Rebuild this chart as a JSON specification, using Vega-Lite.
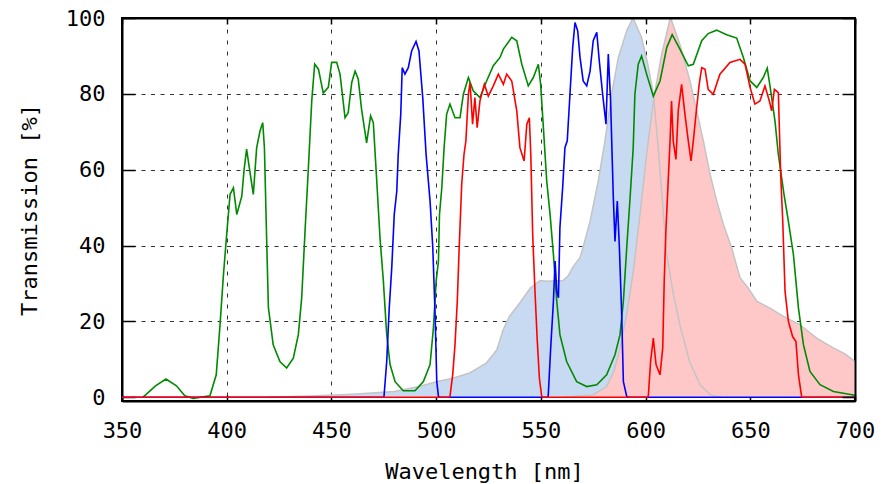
{
  "$schema": "https://vega.github.io/schema/vega-lite/v6.json",
  "width": 733,
  "height": 383,
  "autosize": {"type": "none"},
  "padding": {"left": 122, "top": 18, "right": 35, "bottom": 83},
  "background": "#ffffff",
  "config": {
    "view": {"stroke": "#000000", "strokeWidth": 2},
    "axis": {
      "labelFont": "DejaVu Sans Mono",
      "labelFontSize": 22,
      "labelColor": "#000000",
      "labelFlush": false,
      "titleFont": "DejaVu Sans Mono",
      "titleFontSize": 22,
      "titleFontWeight": "normal",
      "titleColor": "#000000",
      "tickColor": "#000000",
      "tickWidth": 1.5,
      "domain": false,
      "gridColor": "#333333",
      "gridOpacity": 1,
      "gridWidth": 1
    }
  },
  "datasets": {
    "exc": [
      {"wl": 420, "t": 0}, {"wl": 440, "t": 0.3}, {"wl": 460, "t": 0.8}, {"wl": 480, "t": 1.5},
      {"wl": 492, "t": 2.8}, {"wl": 500, "t": 4.1}, {"wl": 508, "t": 5}, {"wl": 516, "t": 6.4},
      {"wl": 524, "t": 9}, {"wl": 529, "t": 12.5}, {"wl": 532, "t": 17.8}, {"wl": 535, "t": 21.3},
      {"wl": 540, "t": 24.9}, {"wl": 545, "t": 28.8}, {"wl": 549.6, "t": 30.8}, {"wl": 552.8, "t": 30.6},
      {"wl": 560.7, "t": 30.8}, {"wl": 563, "t": 32}, {"wl": 565.5, "t": 34.5}, {"wl": 568.7, "t": 36.8},
      {"wl": 570.3, "t": 39.8}, {"wl": 573.5, "t": 46.4}, {"wl": 577.4, "t": 57}, {"wl": 580.6, "t": 67.6},
      {"wl": 583.8, "t": 79.9}, {"wl": 587, "t": 89.6}, {"wl": 591, "t": 96.6}, {"wl": 594, "t": 100},
      {"wl": 598, "t": 95}, {"wl": 601, "t": 88}, {"wl": 603.7, "t": 80}, {"wl": 606, "t": 66},
      {"wl": 608, "t": 52}, {"wl": 610, "t": 38}, {"wl": 613, "t": 28}, {"wl": 616.4, "t": 19},
      {"wl": 621, "t": 9.4}, {"wl": 626, "t": 3.3}, {"wl": 631, "t": 0.6}, {"wl": 636, "t": 0}
    ],
    "em": [
      {"wl": 560, "t": 0}, {"wl": 575, "t": 0.6}, {"wl": 581.4, "t": 2.8}, {"wl": 585, "t": 7},
      {"wl": 587.8, "t": 13}, {"wl": 591, "t": 22}, {"wl": 594.1, "t": 33}, {"wl": 597.3, "t": 48},
      {"wl": 600.5, "t": 64}, {"wl": 603.7, "t": 78}, {"wl": 607.7, "t": 90.5}, {"wl": 611.7, "t": 99.7},
      {"wl": 612, "t": 100}, {"wl": 616.4, "t": 93}, {"wl": 621.2, "t": 83.4}, {"wl": 624.4, "t": 75.5},
      {"wl": 627.6, "t": 67.6}, {"wl": 630.8, "t": 58.8}, {"wl": 634, "t": 51.7}, {"wl": 637.2, "t": 45.5},
      {"wl": 641.1, "t": 39.4}, {"wl": 645.1, "t": 31.5}, {"wl": 649, "t": 28.8}, {"wl": 653.1, "t": 25.3},
      {"wl": 659.4, "t": 23.5}, {"wl": 665.8, "t": 21.3}, {"wl": 673.7, "t": 19.1}, {"wl": 681.7, "t": 15.6},
      {"wl": 689.6, "t": 13}, {"wl": 695, "t": 11.5}, {"wl": 700, "t": 9.4}
    ],
    "green": [
      {"wl": 360, "t": 0}, {"wl": 361, "t": 0.5}, {"wl": 366, "t": 3}, {"wl": 371, "t": 4.8},
      {"wl": 376, "t": 3}, {"wl": 380, "t": 0.4}, {"wl": 384, "t": -0.3}, {"wl": 392, "t": 0.4},
      {"wl": 395, "t": 5.9}, {"wl": 396.8, "t": 19}, {"wl": 398.4, "t": 32}, {"wl": 400, "t": 43},
      {"wl": 401.6, "t": 53.5}, {"wl": 403.2, "t": 55.2}, {"wl": 404.8, "t": 48.2}, {"wl": 407.2, "t": 53},
      {"wl": 408.3, "t": 60}, {"wl": 409.5, "t": 65.4}, {"wl": 410.8, "t": 60.5}, {"wl": 412.7, "t": 53.5},
      {"wl": 414.3, "t": 65.8}, {"wl": 415.9, "t": 70.2}, {"wl": 417.2, "t": 72.4}, {"wl": 418, "t": 65.8},
      {"wl": 419.1, "t": 41}, {"wl": 419.9, "t": 23.6}, {"wl": 422.2, "t": 13.8}, {"wl": 425.4, "t": 9.4},
      {"wl": 428.6, "t": 7.7}, {"wl": 431.8, "t": 10.3}, {"wl": 434.2, "t": 16.5}, {"wl": 435.8, "t": 26.2},
      {"wl": 437.4, "t": 43.8}, {"wl": 439, "t": 60.5}, {"wl": 440.6, "t": 78.1}, {"wl": 442, "t": 87.8},
      {"wl": 443.8, "t": 86.5}, {"wl": 446.1, "t": 80.2}, {"wl": 448.5, "t": 81.7}, {"wl": 450.1, "t": 88.3},
      {"wl": 452.5, "t": 88.3}, {"wl": 454.1, "t": 85.2}, {"wl": 456.5, "t": 73.7}, {"wl": 458, "t": 75},
      {"wl": 459.7, "t": 83}, {"wl": 461.3, "t": 86}, {"wl": 462.8, "t": 83.9}, {"wl": 464.4, "t": 75.9},
      {"wl": 466.8, "t": 67.1}, {"wl": 468.7, "t": 74.2}, {"wl": 470, "t": 72.4}, {"wl": 471.6, "t": 57.4},
      {"wl": 473.2, "t": 42}, {"wl": 474.8, "t": 30.6}, {"wl": 476.4, "t": 16.5}, {"wl": 478, "t": 8.6},
      {"wl": 480.4, "t": 4.1}, {"wl": 484.3, "t": 1.7}, {"wl": 489.9, "t": 1.7}, {"wl": 493.9, "t": 4.1},
      {"wl": 497.1, "t": 8.6}, {"wl": 498.7, "t": 18.3}, {"wl": 500, "t": 30.6}, {"wl": 501.1, "t": 35.9},
      {"wl": 501.6, "t": 48.2}, {"wl": 502.7, "t": 55.2}, {"wl": 503.8, "t": 65.8}, {"wl": 505, "t": 74.6},
      {"wl": 506.6, "t": 77.3}, {"wl": 509, "t": 73.7}, {"wl": 511.4, "t": 73.7}, {"wl": 513, "t": 79.9},
      {"wl": 515.4, "t": 84.3}, {"wl": 517.7, "t": 80.8}, {"wl": 520.9, "t": 79}, {"wl": 524.1, "t": 83.4},
      {"wl": 527.3, "t": 87.4}, {"wl": 530.5, "t": 89.6}, {"wl": 532.1, "t": 91.8}, {"wl": 536.1, "t": 94.9},
      {"wl": 538.5, "t": 94}, {"wl": 540.9, "t": 87.8}, {"wl": 544, "t": 82.1}, {"wl": 546.4, "t": 84.3},
      {"wl": 548.8, "t": 87.8}, {"wl": 549.9, "t": 82.5}, {"wl": 551.2, "t": 71.1}, {"wl": 552.8, "t": 57},
      {"wl": 554.4, "t": 48.2}, {"wl": 556, "t": 37.6}, {"wl": 557.6, "t": 25.3}, {"wl": 559.1, "t": 16.5},
      {"wl": 562.3, "t": 9.4}, {"wl": 567.1, "t": 4.1}, {"wl": 571.9, "t": 2.8}, {"wl": 576.7, "t": 3.3},
      {"wl": 581.4, "t": 5.9}, {"wl": 585.4, "t": 11.2}, {"wl": 587.8, "t": 16.5}, {"wl": 589.4, "t": 25.3},
      {"wl": 591, "t": 39.4}, {"wl": 592.6, "t": 52.6}, {"wl": 594.1, "t": 65.8}, {"wl": 594.9, "t": 79.9},
      {"wl": 596.5, "t": 87.8}, {"wl": 598.1, "t": 90}, {"wl": 600.5, "t": 85.2}, {"wl": 603.7, "t": 79.4},
      {"wl": 606.9, "t": 83.4}, {"wl": 610.1, "t": 92.2}, {"wl": 612.7, "t": 95.6}, {"wl": 616.4, "t": 91.8},
      {"wl": 620.4, "t": 87.4}, {"wl": 622.8, "t": 87.8}, {"wl": 626.8, "t": 94}, {"wl": 629.9, "t": 95.9},
      {"wl": 633.9, "t": 96.8}, {"wl": 638.7, "t": 95.6}, {"wl": 643.5, "t": 94.7}, {"wl": 646.7, "t": 89.6},
      {"wl": 649.9, "t": 83.4}, {"wl": 653.1, "t": 81.7}, {"wl": 656.2, "t": 84.3}, {"wl": 658.1, "t": 86.8},
      {"wl": 659.4, "t": 82.1}, {"wl": 661.8, "t": 72.8}, {"wl": 663.4, "t": 64}, {"wl": 666.1, "t": 53.5},
      {"wl": 668.2, "t": 46.4}, {"wl": 670.6, "t": 37.6}, {"wl": 673, "t": 23.5}, {"wl": 675.4, "t": 13.8},
      {"wl": 678.5, "t": 6.8}, {"wl": 683.3, "t": 3.3}, {"wl": 689.7, "t": 1.5}, {"wl": 699.2, "t": 0.6},
      {"wl": 700, "t": 0.5}
    ],
    "blue": [
      {"wl": 350, "t": 0}, {"wl": 475, "t": 0}, {"wl": 475.1, "t": 0.2}, {"wl": 476.4, "t": 9.4},
      {"wl": 477.6, "t": 23.5}, {"wl": 478.8, "t": 34.1}, {"wl": 480, "t": 48.2}, {"wl": 481.2, "t": 54.3},
      {"wl": 481.9, "t": 64}, {"wl": 483.1, "t": 74.6}, {"wl": 483.8, "t": 86.9}, {"wl": 485.1, "t": 85.2},
      {"wl": 486.7, "t": 86.9}, {"wl": 488.3, "t": 91.3}, {"wl": 490.4, "t": 93.8}, {"wl": 491.8, "t": 91.3},
      {"wl": 493.6, "t": 79}, {"wl": 495.2, "t": 64}, {"wl": 497.1, "t": 51.7}, {"wl": 498.4, "t": 39.4},
      {"wl": 499.5, "t": 21.8}, {"wl": 500.3, "t": 4.1}, {"wl": 501.1, "t": 0.2}, {"wl": 502, "t": 0},
      {"wl": 553, "t": 0}, {"wl": 553.5, "t": 0.2}, {"wl": 554.7, "t": 13}, {"wl": 556, "t": 25.3},
      {"wl": 556.8, "t": 35.9}, {"wl": 557.6, "t": 28}, {"wl": 558.4, "t": 26.2}, {"wl": 559.1, "t": 44.7},
      {"wl": 560.4, "t": 55.2}, {"wl": 561.5, "t": 65.8}, {"wl": 562.6, "t": 67.6}, {"wl": 563.9, "t": 79.9},
      {"wl": 565.2, "t": 92.2}, {"wl": 566.3, "t": 98.8}, {"wl": 567.6, "t": 96.6}, {"wl": 568.7, "t": 89.6},
      {"wl": 570.2, "t": 83.4}, {"wl": 571.9, "t": 82.1}, {"wl": 573.5, "t": 86}, {"wl": 575, "t": 94},
      {"wl": 576.7, "t": 96.2}, {"wl": 577.9, "t": 88.7}, {"wl": 579.5, "t": 79.9}, {"wl": 581.1, "t": 72},
      {"wl": 582.2, "t": 90.5}, {"wl": 583.3, "t": 78.1}, {"wl": 584.6, "t": 52.6}, {"wl": 585.4, "t": 41.1},
      {"wl": 586.5, "t": 51.7}, {"wl": 587.5, "t": 39.4}, {"wl": 588.6, "t": 21.8}, {"wl": 589.4, "t": 4.1},
      {"wl": 591, "t": 0.2}, {"wl": 592, "t": 0}, {"wl": 700, "t": 0}
    ],
    "red": [
      {"wl": 350, "t": 0}, {"wl": 506, "t": 0}, {"wl": 506.6, "t": 0.2}, {"wl": 507.9, "t": 5.9},
      {"wl": 509, "t": 13.8}, {"wl": 510.1, "t": 25.3}, {"wl": 511, "t": 39.4}, {"wl": 512.2, "t": 56.1},
      {"wl": 513.3, "t": 64}, {"wl": 514.2, "t": 67.6}, {"wl": 515.4, "t": 79.9}, {"wl": 516.2, "t": 83},
      {"wl": 517.4, "t": 72}, {"wl": 518.5, "t": 79}, {"wl": 519.6, "t": 71.1}, {"wl": 520.9, "t": 78.1},
      {"wl": 523, "t": 82.5}, {"wl": 524.9, "t": 79.4}, {"wl": 527.3, "t": 82.1}, {"wl": 529.7, "t": 85.2},
      {"wl": 532.1, "t": 82.5}, {"wl": 533.7, "t": 85.2}, {"wl": 536.1, "t": 83.4}, {"wl": 538.5, "t": 75.5},
      {"wl": 540, "t": 65.8}, {"wl": 542, "t": 62.3}, {"wl": 543.3, "t": 72}, {"wl": 544.5, "t": 73.7},
      {"wl": 545.2, "t": 64}, {"wl": 546.1, "t": 42.9}, {"wl": 547.2, "t": 27.9}, {"wl": 548.3, "t": 14.7},
      {"wl": 549.3, "t": 5}, {"wl": 550.4, "t": 0.2}, {"wl": 551, "t": 0}, {"wl": 600.5, "t": 0},
      {"wl": 601.3, "t": 0.2}, {"wl": 602.4, "t": 9.4}, {"wl": 603.7, "t": 15.6}, {"wl": 605, "t": 8.6},
      {"wl": 606.9, "t": 5.9}, {"wl": 608.2, "t": 13}, {"wl": 608.9, "t": 30.6}, {"wl": 609.7, "t": 43.8},
      {"wl": 610.8, "t": 57}, {"wl": 611.7, "t": 67.6}, {"wl": 612.4, "t": 78.1}, {"wl": 613.2, "t": 67.6},
      {"wl": 614.5, "t": 62.7}, {"wl": 615.6, "t": 75.5}, {"wl": 617.2, "t": 82.5}, {"wl": 618.8, "t": 74.6},
      {"wl": 620.4, "t": 67.6}, {"wl": 621.7, "t": 62.3}, {"wl": 622.8, "t": 67.6}, {"wl": 624.4, "t": 76.4},
      {"wl": 625.6, "t": 82.5}, {"wl": 626.8, "t": 86.9}, {"wl": 628.4, "t": 86.5}, {"wl": 629.9, "t": 81.2},
      {"wl": 632.3, "t": 79.9}, {"wl": 635.5, "t": 85.2}, {"wl": 640.3, "t": 88.3}, {"wl": 645.1, "t": 89.1},
      {"wl": 647.5, "t": 87.8}, {"wl": 649.9, "t": 81.7}, {"wl": 652.2, "t": 77.3}, {"wl": 654.6, "t": 78.1},
      {"wl": 657, "t": 82.1}, {"wl": 659.1, "t": 78.1}, {"wl": 660.2, "t": 75.5}, {"wl": 661.5, "t": 81.2},
      {"wl": 663.4, "t": 80.3}, {"wl": 664.5, "t": 58.8}, {"wl": 665.5, "t": 46.4}, {"wl": 666.6, "t": 27.9},
      {"wl": 668.2, "t": 20}, {"wl": 670.2, "t": 16}, {"wl": 671.8, "t": 14.7}, {"wl": 673, "t": 5.9},
      {"wl": 674.5, "t": 0.2}, {"wl": 675, "t": 0}, {"wl": 700, "t": 0}
    ]
  },
  "layer": [
    {
      "encoding": {
        "x": {
          "field": "wl", "type": "quantitative",
          "scale": {"domain": [350, 700], "nice": false, "zero": false},
          "axis": {
            "values": [350, 400, 450, 500, 550, 600, 650, 700],
            "title": "Wavelength [nm]",
            "grid": true, "gridDash": [4, 7],
            "tickSize": -6,
            "labelPadding": 25,
            "labelDx": 3,
            "domain": true, "domainColor": "#000000", "domainWidth": 2,
            "titleY": 70, "titleX": 362, "titleBaseline": "middle"
          }
        },
        "y": {
          "field": "t", "type": "quantitative",
          "scale": {"domain": [-1, 100], "nice": false, "zero": false},
          "axis": {
            "values": [0, 20, 40, 60, 80, 100],
            "title": "Transmission [%]",
            "grid": true, "gridDash": [4, 5.5],
            "tickSize": -13,
            "labelPadding": 30,
            "domain": true, "domainColor": "#000000", "domainWidth": 2,
            "titleX": -93, "titleY": 191.5, "titleAngle": -90, "titleBaseline": "middle"
          }
        }
      },
      "layer": [
        {"data": {"name": "exc"}, "mark": {"type": "area", "color": "#c8daf2", "clip": true}},
        {"data": {"name": "em"}, "mark": {"type": "area", "color": "#ffc8c8", "clip": true}},
        {"data": {"name": "exc"}, "mark": {"type": "line", "color": "#c4c4c4", "strokeWidth": 1.5, "clip": true}},
        {"data": {"name": "em"}, "mark": {"type": "line", "color": "#c4c4c4", "strokeWidth": 1.5, "clip": true}},
        {"data": {"name": "green"}, "mark": {"type": "line", "color": "#008a00", "strokeWidth": 1.6, "clip": true}},
        {"data": {"name": "blue"}, "mark": {"type": "line", "color": "#0000ff", "strokeWidth": 1.6, "clip": true}},
        {"data": {"name": "red"}, "mark": {"type": "line", "color": "#ff0000", "strokeWidth": 1.6, "clip": true}}
      ]
    },
    {
      "data": {"name": "em"},
      "mark": {"type": "line", "opacity": 0},
      "encoding": {
        "x": {
          "field": "wl", "type": "quantitative",
          "scale": {"domain": [350, 700], "nice": false, "zero": false},
          "axis": {"orient": "top", "values": [350, 400, 450, 500, 550, 600, 650, 700], "labels": false, "title": null, "grid": false, "tickSize": -6, "domain": true, "domainColor": "#000000", "domainWidth": 2, "zindex": 2}
        },
        "y": {
          "field": "t", "type": "quantitative",
          "scale": {"domain": [-1, 100], "nice": false, "zero": false},
          "axis": {"orient": "right", "values": [0, 20, 40, 60, 80, 100], "labels": false, "title": null, "grid": false, "tickSize": -13, "domain": true, "domainColor": "#000000", "domainWidth": 2, "zindex": 2}
        }
      }
    }
  ],
  "resolve": {"axis": {"x": "independent", "y": "independent"}}
}
